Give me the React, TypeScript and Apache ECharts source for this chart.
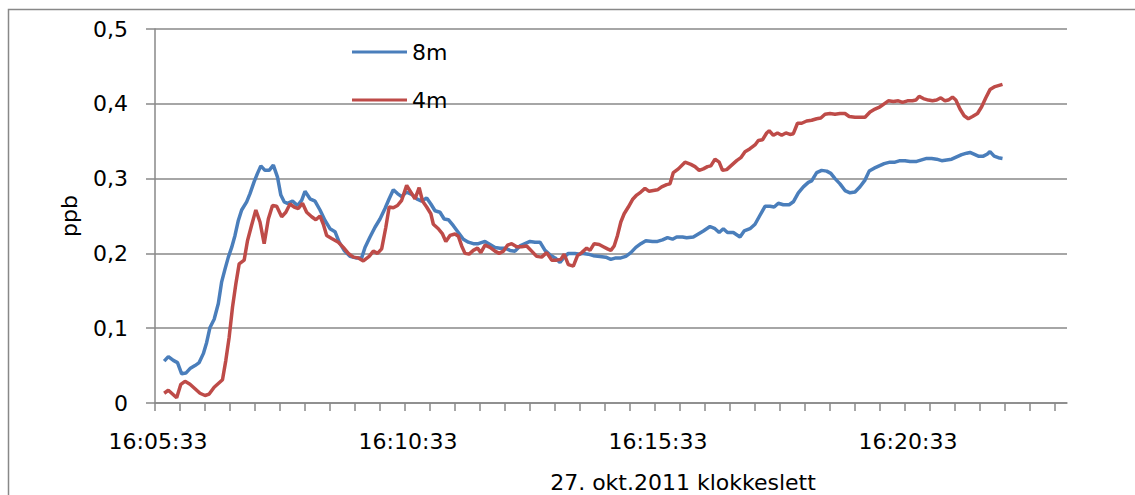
import React, { useEffect, useRef } from "react";
import * as echarts from "echarts";

// seconds after 16:05:33, value in ppb
const series8m: [number, number][] = [
  [11, 0.056], [16, 0.062], [22, 0.057], [27, 0.054], [32, 0.039], [37, 0.04], [42, 0.046], [48, 0.05],
  [53, 0.054], [58, 0.066], [62, 0.081], [66, 0.101], [71, 0.112], [76, 0.133], [80, 0.162], [84, 0.179],
  [88, 0.195], [92, 0.208], [96, 0.224], [100, 0.244], [104, 0.258], [110, 0.269], [114, 0.28], [119, 0.296],
  [123, 0.307], [127, 0.317], [132, 0.311], [137, 0.311], [142, 0.318], [147, 0.302], [151, 0.278], [155, 0.269],
  [159, 0.267], [165, 0.27], [171, 0.264], [176, 0.271], [180, 0.283], [186, 0.273], [192, 0.27], [198, 0.258],
  [204, 0.244], [210, 0.233], [216, 0.229], [221, 0.215], [227, 0.204], [234, 0.196], [241, 0.194], [248, 0.194],
  [252, 0.208], [258, 0.222], [264, 0.235], [270, 0.246], [276, 0.26], [281, 0.273], [286, 0.285], [291, 0.28],
  [296, 0.276], [302, 0.282], [308, 0.279], [314, 0.273], [320, 0.27], [326, 0.274], [331, 0.266], [336, 0.257],
  [342, 0.255], [347, 0.246], [352, 0.245], [358, 0.237], [364, 0.228], [370, 0.219], [376, 0.215], [382, 0.213],
  [388, 0.213], [396, 0.216], [402, 0.212], [408, 0.208], [414, 0.207], [420, 0.207], [426, 0.204], [432, 0.203],
  [438, 0.21], [444, 0.213], [450, 0.216], [456, 0.215], [462, 0.215], [468, 0.204], [474, 0.198], [480, 0.194],
  [486, 0.188], [491, 0.195], [496, 0.2], [504, 0.2], [510, 0.199], [514, 0.2], [520, 0.199], [526, 0.197],
  [534, 0.196], [541, 0.195], [547, 0.192], [553, 0.194], [559, 0.194], [565, 0.196], [571, 0.201], [577, 0.208],
  [583, 0.213], [589, 0.217], [597, 0.216], [603, 0.216], [609, 0.218], [615, 0.221], [621, 0.219], [626, 0.222],
  [633, 0.222], [638, 0.221], [646, 0.222], [652, 0.226], [658, 0.23], [666, 0.236], [672, 0.233], [677, 0.228],
  [682, 0.233], [687, 0.228], [694, 0.228], [702, 0.222], [707, 0.23], [714, 0.233], [720, 0.239], [726, 0.251],
  [732, 0.263], [738, 0.263], [743, 0.262], [748, 0.267], [754, 0.265], [761, 0.265], [766, 0.269], [772, 0.281],
  [778, 0.289], [784, 0.295], [788, 0.297], [794, 0.308], [800, 0.311], [806, 0.31], [811, 0.307], [816, 0.3],
  [822, 0.293], [828, 0.284], [834, 0.281], [840, 0.282], [846, 0.289], [852, 0.298], [857, 0.31], [863, 0.314],
  [869, 0.317], [875, 0.32], [882, 0.322], [888, 0.322], [894, 0.324], [900, 0.324], [906, 0.323], [914, 0.323],
  [920, 0.325], [926, 0.327], [932, 0.327], [938, 0.326], [944, 0.324], [950, 0.325], [956, 0.326], [962, 0.329],
  [968, 0.332], [974, 0.334], [978, 0.335], [982, 0.333], [988, 0.33], [994, 0.33], [999, 0.333], [1002, 0.336],
  [1007, 0.33], [1012, 0.328], [1017, 0.327],
];

const series4m: [number, number][] = [
  [11, 0.013], [16, 0.017], [21, 0.012], [26, 0.007], [31, 0.025], [36, 0.029], [42, 0.025], [48, 0.019],
  [54, 0.013], [60, 0.01], [65, 0.012], [71, 0.021], [76, 0.026], [81, 0.031], [85, 0.057], [89, 0.088],
  [93, 0.128], [97, 0.159], [101, 0.186], [107, 0.191], [111, 0.217], [116, 0.238], [121, 0.258], [126, 0.242],
  [131, 0.213], [136, 0.246], [141, 0.264], [146, 0.263], [152, 0.249], [157, 0.255], [162, 0.266], [167, 0.262],
  [172, 0.26], [177, 0.267], [182, 0.255], [188, 0.249], [193, 0.245], [198, 0.25], [202, 0.239], [206, 0.224],
  [212, 0.22], [220, 0.215], [226, 0.208], [232, 0.2], [238, 0.195], [244, 0.194], [250, 0.19], [257, 0.196],
  [262, 0.203], [267, 0.2], [272, 0.206], [277, 0.235], [281, 0.262], [286, 0.261], [291, 0.264], [296, 0.271],
  [302, 0.291], [307, 0.282], [312, 0.273], [317, 0.288], [321, 0.27], [326, 0.262], [331, 0.253], [334, 0.239],
  [340, 0.233], [345, 0.226], [349, 0.216], [354, 0.224], [360, 0.226], [364, 0.223], [368, 0.21], [372, 0.2],
  [377, 0.199], [382, 0.204], [387, 0.207], [391, 0.201], [396, 0.211], [402, 0.208], [408, 0.203], [413, 0.2],
  [418, 0.203], [423, 0.211], [428, 0.213], [434, 0.209], [440, 0.209], [446, 0.21], [452, 0.203], [458, 0.196],
  [464, 0.195], [470, 0.201], [476, 0.191], [482, 0.191], [487, 0.192], [491, 0.199], [496, 0.185], [502, 0.183],
  [507, 0.197], [512, 0.201], [518, 0.207], [522, 0.204], [527, 0.213], [533, 0.212], [538, 0.209], [543, 0.206],
  [547, 0.204], [551, 0.21], [555, 0.224], [559, 0.242], [563, 0.253], [568, 0.262], [573, 0.272], [578, 0.278],
  [583, 0.282], [588, 0.287], [593, 0.283], [598, 0.284], [603, 0.285], [608, 0.289], [614, 0.292], [618, 0.293],
  [622, 0.308], [628, 0.313], [636, 0.322], [643, 0.319], [648, 0.316], [653, 0.311], [658, 0.313], [663, 0.316],
  [667, 0.317], [672, 0.326], [677, 0.322], [681, 0.311], [686, 0.312], [692, 0.318], [698, 0.324], [703, 0.328],
  [708, 0.336], [714, 0.34], [720, 0.345], [724, 0.351], [729, 0.352], [734, 0.361], [737, 0.364], [742, 0.358],
  [747, 0.361], [752, 0.358], [757, 0.361], [762, 0.359], [766, 0.36], [771, 0.374], [776, 0.374], [782, 0.377],
  [788, 0.378], [794, 0.38], [799, 0.381], [804, 0.386], [810, 0.387], [816, 0.386], [822, 0.387], [828, 0.387],
  [833, 0.383], [840, 0.382], [846, 0.382], [852, 0.382], [858, 0.389], [864, 0.393], [870, 0.396], [875, 0.4],
  [880, 0.404], [886, 0.403], [892, 0.404], [897, 0.402], [903, 0.404], [909, 0.404], [913, 0.405], [917, 0.41],
  [922, 0.407], [928, 0.405], [933, 0.404], [938, 0.405], [943, 0.408], [948, 0.404], [952, 0.405], [957, 0.409],
  [961, 0.405], [966, 0.393], [971, 0.384], [976, 0.38], [981, 0.383], [987, 0.387], [992, 0.396], [997, 0.408],
  [1002, 0.419], [1008, 0.423], [1017, 0.426],
];

const seriesNames = ["8m", "4m"];
const seriesColors = ["#4A7EBB", "#BE4B48"];

const xLabelSeconds = [0, 300, 600, 900];
const xTickLabels = ["16:05:33", "16:10:33", "16:15:33", "16:20:33"];
const xTickStep = 30;
const xMax = 1094.4;
const xTitle = "27. okt.2011 klokkeslett";
const yTitle = "ppb";

const FONT = "DejaVu Sans";
const FS = 22;
const GRAY = "#888888";

export default function App() {
  const ref = useRef<HTMLDivElement>(null);

  useEffect(() => {
    if (!ref.current) return;
    const chart = echarts.init(ref.current, undefined, { renderer: "svg" });
    const tickValues: number[] = [];
    for (let v = 0; v <= xMax; v += xTickStep) tickValues.push(v);

    chart.setOption({
      animation: false,
      backgroundColor: "#ffffff",
      textStyle: { fontFamily: FONT },
      grid: { left: 155, right: 68, top: 29, bottom: 92, containLabel: false, outerBoundsMode: "none" },
      legend: {
        orient: "vertical",
        left: 347,
        top: 35,
        itemWidth: 55,
        itemHeight: 3,
        itemGap: 24,
        icon: "rect",
        data: seriesNames,
        textStyle: { fontFamily: FONT, fontSize: FS, color: "#000", lineHeight: 24 },
      },
      xAxis: {
        type: "value",
        min: 0,
        max: xMax,
        interval: xTickStep,
        name: xTitle,
        nameLocation: "middle",
        nameGap: 67,
        nameTextStyle: {
          fontFamily: FONT,
          fontSize: FS,
          color: "#000",
          lineHeight: 24,
          padding: [0, 0, 0, 144],
        },
        axisLine: { show: true, lineStyle: { color: GRAY, width: 1.5 } },
        axisTick: { show: true, length: 8, lineStyle: { color: GRAY, width: 1.5 }, customValues: tickValues },
        splitLine: { show: false },
        axisLabel: {
          customValues: xLabelSeconds,
          margin: 27,
          padding: [0, 0, 0, 6],
          fontFamily: FONT,
          fontSize: FS,
          color: "#000",
          formatter: (v: number) => {
            const i = xLabelSeconds.indexOf(Math.round(v));
            return i >= 0 ? xTickLabels[i] : "";
          },
        },
      },
      yAxis: {
        type: "value",
        min: 0,
        max: 0.5,
        interval: 0.1,
        name: yTitle,
        nameLocation: "middle",
        nameGap: 75,
        nameRotate: 90,
        nameTextStyle: { fontFamily: FONT, fontSize: FS, color: "#000" },
        axisLine: { show: true, lineStyle: { color: GRAY, width: 1.5 } },
        axisTick: { show: true, length: 9, lineStyle: { color: GRAY, width: 1.5 } },
        splitLine: { show: true, lineStyle: { color: GRAY, width: 1.5 } },
        axisLabel: {
          margin: 27,
          fontFamily: FONT,
          fontSize: FS,
          color: "#000",
          formatter: (v: number) => (v === 0 ? "0" : v.toFixed(1).replace(".", ",")),
        },
      },
      graphic: [
        {
          type: "rect",
          shape: { x: 8.5, y: 9.5, width: 1300, height: 700 },
          style: { fill: "none", stroke: GRAY, lineWidth: 1.5 },
          silent: true,
        },
      ],
      series: [
        {
          name: seriesNames[0],
          type: "line",
          data: series8m,
          showSymbol: false,
          symbol: "none",
          lineStyle: { color: seriesColors[0], width: 3.5 },
          itemStyle: { color: seriesColors[0] },
        },
        {
          name: seriesNames[1],
          type: "line",
          data: series4m,
          showSymbol: false,
          symbol: "none",
          lineStyle: { color: seriesColors[1], width: 3.5 },
          itemStyle: { color: seriesColors[1] },
        },
      ],
    });
    return () => chart.dispose();
  }, []);

  return (
    <div
      ref={ref}
      style={{ position: "fixed", left: 0, top: 0, width: 1135, height: 495, background: "#fff" }}
    />
  );
}
